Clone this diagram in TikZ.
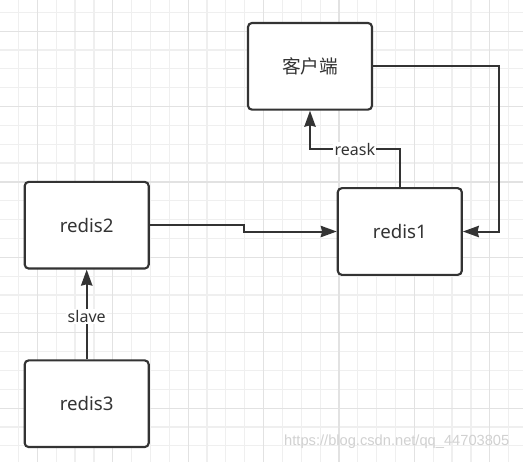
\documentclass[tikz,border=0pt]{standalone}
\usepackage{fontspec}
\setmainfont{Noto Sans}
\newfontfamily\cjk{Noto Sans CJK SC}
\newfontfamily\markfont{Liberation Sans}
\usetikzlibrary{arrows.meta}

\definecolor{ink}{HTML}{333333}
\definecolor{gridminor}{HTML}{EFEFEF}
\definecolor{gridmajor}{HTML}{E2E2E2}

\tikzset{%
  every server/.style={
    draw=ink,
    line width=1.6pt,
    rounded corners=3pt,
    fill=white,
    text=ink,
    minimum width=93pt,
    minimum height=65pt,
    font=\fontsize{14}{16}\selectfont
  },
  link/.style={
    draw=ink,
    line width=1.5pt,
    ->
  },
  link label/.style={
    fill=white,
    text=ink,
    inner sep=1pt,
    font=\fontsize{12}{14}\selectfont
  },
  grid minor/.style={draw=gridminor, line width=0.9pt},
  grid major/.style={draw=gridmajor, line width=0.9pt},
  >={Stealth[length=12pt,width=8.5pt,inset=1pt]},
}

\begin{document}
\begin{tikzpicture}[x=0.75pt,y=-0.75pt]
\useasboundingbox (0,0) rectangle (523,462);
\fill[white] (0,0) rectangle (523,462);

% background grid
\foreach \k in {0,...,28}
  \draw [grid minor] ({-0.35+\k*18.85},0) -- ++(0,462);
\foreach \k in {0,...,24}
  \draw [grid minor] (0,{12.25+\k*18.85}) -- ++(523,0);
\foreach \k in {2,6,...,26}
  \draw [grid major] ({-0.35+\k*18.85},0) -- ++(0,462);
\foreach \k in {1,5,...,21}
  \draw [grid major] (0,{12.25+\k*18.85}) -- ++(523,0);

\node [every server] (client) at (310,66.3) {\cjk 客户端};
\node [every server] (redis-1) at (399.8,231.5) {redis1};
\node [every server] (redis-2) at (86.7,225.2) {redis2};
\node [every server] (redis-3) at (86.7,403.7) {redis3};

\draw [link] (redis-2.east) -- ++(94,0) |- (redis-1.west);
\draw [link] (client.east) -- ++(126,0) |- (redis-1.east);
\draw [link] (redis-1.north) -- ++(0,-38) -| (client.south)
  node [link label, pos=0.25] {reask};
\draw [link] (redis-3.north) -- (redis-2.south)
  node [link label, pos=0.48] {slave};

\node [text=black!18, font=\markfont\fontsize{11}{13}\selectfont, anchor=east]
  (mark) at (514,442) {https://blog.csdn.net/qq\_44703805};
\end{tikzpicture}
\end{document}
